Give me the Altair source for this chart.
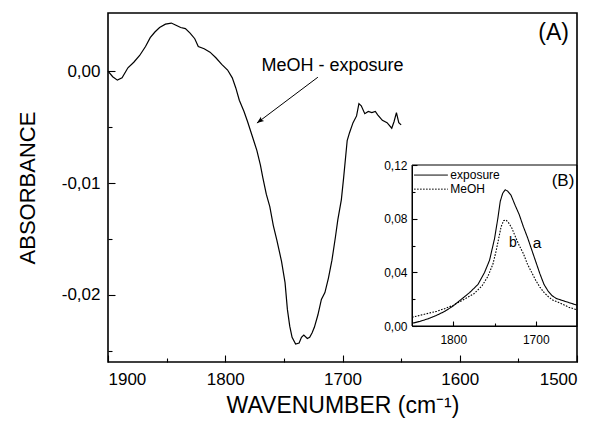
import altair as alt
import pandas as pd

# ---------------- data ----------------
wn_main = [1900, 1896, 1892, 1888, 1883, 1878, 1873, 1868, 1864, 1860, 1856, 1851, 1846, 1842,
           1838, 1834, 1830, 1826, 1823, 1818, 1813, 1808, 1803, 1798, 1794, 1791, 1788, 1784,
           1781, 1777, 1773, 1770, 1768, 1765, 1762, 1759, 1756, 1752, 1749, 1747, 1745, 1743,
           1740, 1737, 1735, 1733, 1730, 1728, 1726, 1724, 1721, 1718, 1715, 1712, 1709, 1706,
           1704, 1701, 1699, 1696, 1694, 1691, 1688, 1686, 1684, 1681, 1678, 1675, 1672, 1670,
           1666, 1662, 1658, 1656, 1654, 1652, 1650]
abs_main = [0.0000, -0.0005, -0.0008, -0.0006, 0.0003, 0.0008, 0.0014, 0.0022, 0.0030, 0.0035,
            0.0039, 0.0042, 0.0043, 0.0041, 0.0039, 0.0038, 0.0034, 0.0029, 0.0022, 0.0020,
            0.0017, 0.0012, 0.0006, 0.0001, -0.0006, -0.0015, -0.0026, -0.0036, -0.0045, -0.0058,
            -0.0071, -0.0084, -0.0095, -0.0110, -0.0121, -0.0138, -0.0151, -0.0170, -0.0189,
            -0.0213, -0.0228, -0.0238, -0.0244, -0.0243, -0.0238, -0.0236, -0.0239, -0.0238,
            -0.0234, -0.0229, -0.0218, -0.0204, -0.0198, -0.0185, -0.0169, -0.0148, -0.0133,
            -0.0115, -0.0095, -0.0062, -0.0055, -0.0046, -0.0040, -0.0029, -0.0031, -0.0038,
            -0.0036, -0.0037, -0.0036, -0.0039, -0.0044, -0.0046, -0.0051, -0.0045, -0.0037,
            -0.0046, -0.0048]

wn_exposure = [1850, 1840, 1830, 1820, 1810, 1800, 1790, 1780, 1770, 1762, 1756, 1750, 1746, 1743,
               1740, 1737, 1734, 1730, 1725, 1720, 1715, 1710, 1705, 1700, 1695, 1690, 1685, 1680,
               1675, 1665, 1650]
abs_exposure = [0.0020, 0.0035, 0.0055, 0.0080, 0.0110, 0.0150, 0.0200, 0.0250, 0.0310, 0.0400,
                0.0490, 0.0650, 0.0800, 0.0930, 0.0990, 0.1015, 0.1005, 0.0975, 0.0900, 0.0830,
                0.0740, 0.0660, 0.0570, 0.0480, 0.0390, 0.0310, 0.0260, 0.0225, 0.0205, 0.0185,
                0.0155]

wn_meoh = [1850, 1840, 1830, 1820, 1810, 1800, 1794, 1785, 1775, 1765, 1758, 1752, 1748, 1745,
           1742, 1739, 1736, 1733, 1729, 1725, 1720, 1715, 1710, 1705, 1700, 1695, 1690, 1685,
           1680, 1670, 1660, 1650]
abs_meoh = [0.0065, 0.0080, 0.0095, 0.0110, 0.0130, 0.0155, 0.0175, 0.0205, 0.0240, 0.0300,
            0.0370, 0.0460, 0.0560, 0.0650, 0.0740, 0.0785, 0.0790, 0.0770, 0.0730, 0.0670,
            0.0600, 0.0540, 0.0460, 0.0400, 0.0340, 0.0290, 0.0250, 0.0220, 0.0195, 0.0170,
            0.0140, 0.0120]

series_names = ["exposure", "MeOH"]

main_x_domain = [1500, 1900]
main_y_domain = [-0.026, 0.0052]
main_x_major = [1900, 1800, 1700, 1600, 1500]
main_x_minor = [1850, 1750, 1650, 1550]
main_y_major = [0.0, -0.01, -0.02]
main_y_minor = [-0.005, -0.015, -0.025]

inset_x_domain = [1650, 1850]
inset_y_domain = [0.0, 0.12]
inset_x_major = [1800, 1700]
inset_x_minor = [1750]
inset_y_major = [0.0, 0.04, 0.08, 0.12]
inset_y_minor = [0.02, 0.06, 0.10]

main_labels = ["MeOH - exposure", "(A)"]
main_label_x = [1708.5, 1520]
main_label_y = [0.0005, 0.0034]
arrow_from = [1721, -0.00054]
arrow_to = [1773, -0.00464]

inset_labels = ["(B)", "a", "b"]
inset_label_x = [1667, 1698.5, 1727.6]
inset_label_y = [0.108, 0.062, 0.062]

# inset legend (sample line span and row heights, in inset data units)
legend_x = [1847.5, 1806.5]
legend_text_x = 1803.5
legend_y = [0.1125, 0.102]

# ---------------- layout ----------------
W, H = 469, 349
FONT = "Liberation Sans"
IX0, IX1 = 304, 469      # inset pixel range inside plot (x)
IY0, IY1 = 313, 152      # inset pixel range inside plot (y)

df_main = pd.DataFrame({"wn": wn_main, "ab": abs_main})
df_inset = pd.concat([
    pd.DataFrame({"wn": wn_exposure, "ab": abs_exposure, "s": series_names[0]}),
    pd.DataFrame({"wn": wn_meoh, "ab": abs_meoh, "s": series_names[1]}),
])
df_main_txt = pd.DataFrame({"x": main_label_x, "y": main_label_y, "t": main_labels})
df_arrow = pd.DataFrame({"x": [arrow_from[0]], "y": [arrow_from[1]],
                         "x2": [arrow_to[0]], "y2": [arrow_to[1]]})
df_inset_txt = pd.DataFrame({"x": inset_label_x, "y": inset_label_y, "t": inset_labels})
df_frame = pd.DataFrame({"x": [inset_x_domain[1]], "x2": [inset_x_domain[0]],
                         "y": [inset_y_domain[0]], "y2": [inset_y_domain[1]]})
df_leg = pd.DataFrame({"x": [legend_x[0]] * 2, "x2": [legend_x[1]] * 2, "y": legend_y,
                       "tx": [legend_text_x] * 2, "s": series_names})

xs = alt.Scale(domain=main_x_domain, reverse=True, nice=False, zero=False)
ys = alt.Scale(domain=main_y_domain, nice=False, zero=False)
ixs = alt.Scale(domain=inset_x_domain, range=[IX1, IX0], nice=False, zero=False)
iys = alt.Scale(domain=inset_y_domain, range=[IY0, IY1], nice=False, zero=False)
dash_scale = alt.Scale(domain=series_names, range=[[1, 0], [1.6, 1.4]])

comma = "(datum.value < -1e-9 ? '-' : '') + replace(format(abs(datum.value), '.2f'), '.', ',')"


def tick_axis(orient, offset, values, size):
    return alt.Axis(orient=orient, offset=offset, values=values, labels=False, domain=False,
                    grid=False, title=None, ticks=True, tickSize=size, tickColor="black",
                    tickWidth=1.1)


def ticks(df, xcol, ycol, xsc, ysc, xvals, yvals, size, xoff, yoff):
    return alt.Chart(df).mark_line(opacity=0).encode(
        x=alt.X(xcol, type="quantitative", scale=xsc, axis=tick_axis("top", xoff, xvals, size)),
        y=alt.Y(ycol, type="quantitative", scale=ysc, axis=tick_axis("right", yoff, yvals, size)),
    )


main_line = alt.Chart(df_main).mark_line(color="black", strokeWidth=1.2).encode(
    x=alt.X("wn:Q", scale=xs, axis=alt.Axis(
        values=main_x_major, format="d", ticks=False, domain=False, grid=False,
        labelFontSize=17, labelPadding=9, labelColor="black",
        title="WAVENUMBER (cm⁻¹)", titleFontSize=23, titleFontWeight="normal",
        titlePadding=7, titleColor="black")),
    y=alt.Y("ab:Q", scale=ys, axis=alt.Axis(
        values=main_y_major, labelExpr=comma, ticks=False, domain=False, grid=False,
        labelFontSize=17, labelPadding=8, labelColor="black",
        title="ABSORBANCE", titleFontSize=22, titleFontWeight="normal",
        titlePadding=22, titleColor="black")),
)

main_ticks_major = ticks(df_main, "wn", "ab", xs, ys, main_x_major, main_y_major, 7, -H, -W)
main_ticks_minor = ticks(df_main, "wn", "ab", xs, ys, main_x_minor, main_y_minor, 4, -H, -W)

arrow_line = alt.Chart(df_arrow).mark_rule(color="black", strokeWidth=1).encode(
    x=alt.X("x:Q", scale=xs, axis=None), x2="x2:Q",
    y=alt.Y("y:Q", scale=ys, axis=None), y2="y2:Q",
)
arrow_head = alt.Chart(df_arrow).mark_point(
    shape="M0,0L-0.38,1L0,0.8L0.38,1Z", filled=True, color="black", opacity=1,
    size=200, angle=233,
).encode(
    x=alt.X("x2:Q", scale=xs, axis=None),
    y=alt.Y("y2:Q", scale=ys, axis=None),
)

main_text = alt.Chart(df_main_txt).mark_text(font=FONT, color="black", align="center",
                                             baseline="middle").encode(
    x=alt.X("x:Q", scale=xs, axis=None),
    y=alt.Y("y:Q", scale=ys, axis=None),
    text="t:N",
    size=alt.Size("t:N", scale=alt.Scale(domain=main_labels, range=[18, 23]), legend=None),
)

main_group = alt.layer(main_line, main_ticks_major, main_ticks_minor, arrow_line, arrow_head,
                       main_text).resolve_axis(x="independent", y="independent")

# ---------------- inset ----------------
inset_frame = alt.Chart(df_frame).mark_rect(fillOpacity=0, stroke="black", strokeWidth=1).encode(
    x=alt.X("x:Q", scale=ixs, axis=None), x2="x2:Q",
    y=alt.Y("y:Q", scale=iys, axis=None), y2="y2:Q",
)

inset_lines = alt.Chart(df_inset).mark_line(color="black", strokeWidth=1.1).encode(
    x=alt.X("wn:Q", scale=ixs, axis=alt.Axis(
        orient="bottom", offset=-(H - IY0), values=inset_x_major, format="d", ticks=False,
        domain=True, domainColor="black", domainWidth=1, grid=False, labelFontSize=12,
        labelPadding=8, labelColor="black", title=None)),
    y=alt.Y("ab:Q", scale=iys, axis=alt.Axis(
        orient="left", offset=-IX0, values=inset_y_major, labelExpr=comma, ticks=False,
        domain=True, domainColor="black", domainWidth=1, grid=False, labelFontSize=12,
        labelPadding=5, labelColor="black", title=None)),
    strokeDash=alt.StrokeDash("s:N", scale=dash_scale, legend=None),
    detail="s:N",
)

legend_lines = alt.Chart(df_leg).mark_rule(color="black", strokeWidth=1).encode(
    x=alt.X("x:Q", scale=ixs, axis=None), x2="x2:Q",
    y=alt.Y("y:Q", scale=iys, axis=None),
    strokeDash=alt.StrokeDash("s:N", scale=dash_scale, legend=None),
)
legend_text = alt.Chart(df_leg).mark_text(font=FONT, fontSize=12, color="black", align="left",
                                          baseline="middle").encode(
    x=alt.X("tx:Q", scale=ixs, axis=None),
    y=alt.Y("y:Q", scale=iys, axis=None),
    text="s:N",
)

inset_ticks_major = ticks(df_inset, "wn", "ab", ixs, iys, inset_x_major, inset_y_major, 5,
                          -IY0, -(W - IX0))
inset_ticks_minor = ticks(df_inset, "wn", "ab", ixs, iys, inset_x_minor, inset_y_minor, 3,
                          -IY0, -(W - IX0))

inset_text = alt.Chart(df_inset_txt).mark_text(font=FONT, color="black", align="center",
                                               baseline="middle").encode(
    x=alt.X("x:Q", scale=ixs, axis=None),
    y=alt.Y("y:Q", scale=iys, axis=None),
    text="t:N",
    size=alt.Size("t:N", scale=alt.Scale(domain=inset_labels, range=[17, 14, 14]), legend=None),
)

inset_group = alt.layer(inset_frame, inset_lines, legend_lines, legend_text, inset_ticks_major,
                        inset_ticks_minor, inset_text).resolve_axis(x="independent",
                                                                    y="independent")

chart = alt.layer(main_group, inset_group).resolve_scale(
    x="independent", y="independent", size="independent"
).properties(
    width=W, height=H,
    autosize=alt.AutoSizeParams(type="none"),
    padding={"left": 108, "top": 13, "right": 24, "bottom": 61},
    background="white",
).configure_view(
    stroke="black", strokeWidth=1.6
).configure_axis(
    labelFont=FONT, titleFont=FONT
).configure_text(font=FONT)

chart.save("out.html", embed_options={"renderer": "svg", "actions": False})
